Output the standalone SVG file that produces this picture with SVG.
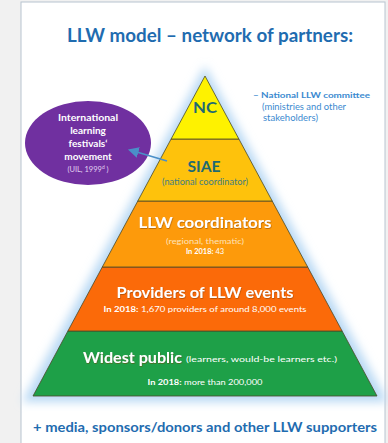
<svg xmlns="http://www.w3.org/2000/svg" width="388" height="443" viewBox="0 0 388 443">
<defs>
<style>
.t{font-family:Lato,"Open Sans","Liberation Sans",sans-serif;text-anchor:middle}
.s{text-anchor:start}
.blue{fill:#1f6cb0;font-weight:bold}
.teal{fill:#1f6a72;font-weight:bold}
.wh{fill:#ffffff}
.layer{stroke:#4a4a2a;stroke-width:0.8}
.note{fill:#3b8ad0}
</style>
<filter id="glow" x="-20%" y="-20%" width="140%" height="140%">
<feGaussianBlur stdDeviation="5"/>
</filter>
<filter id="sh" x="-10%" y="-30%" width="120%" height="160%">
<feDropShadow dx="0.5" dy="0.8" stdDeviation="0.6" flood-color="#7a3a00" flood-opacity="0.6"/>
</filter>
<marker id="ah" viewBox="0 0 10 10" refX="8" refY="5" markerWidth="6" markerHeight="6" orient="auto-start-reverse">
<path d="M0,0 L10,5 L0,10 z" fill="#4a8fc8"/>
</marker>
</defs>
<rect x="0" y="0" width="388" height="443" fill="#f1f1f1"/>
<rect x="21" y="2" width="364" height="445" fill="#ffffff" stroke="#b8c4d0" stroke-width="1"/>
<g id="title">
<text class="t blue" x="210" y="42" font-size="18" textLength="286" lengthAdjust="spacingAndGlyphs">LLW model – network of partners:</text>
</g>
<polygon points="205,66 22,402 388,402" fill="#b9d9f4" filter="url(#glow)"/>
<g id="widest">
<polygon class="layer" points="67.9,331 342.1,331 377,396 33,396" fill="#1ea048"/>
<text class="t s wh" x="83" y="363" font-size="15" font-weight="bold" textLength="99" lengthAdjust="spacingAndGlyphs" filter="url(#sh)">Widest public</text>
<text class="t s wh" x="186" y="362" font-size="8" textLength="151" lengthAdjust="spacingAndGlyphs">(learners, would-be learners etc.)</text>
<text class="t wh" x="205" y="385" font-size="7.5" textLength="115" lengthAdjust="spacingAndGlyphs"><tspan font-weight="bold">In 2018:</tspan> more than 200,000</text>
</g>
<g id="providers">
<polygon class="layer" points="102.3,267 307.7,267 342.1,331 67.9,331" fill="#fb6a09"/>
<text class="t wh" x="205" y="298" font-size="15" font-weight="bold" textLength="177" lengthAdjust="spacingAndGlyphs" filter="url(#sh)">Providers of LLW events</text>
<text class="t wh" x="205" y="312" font-size="7.5" textLength="203" lengthAdjust="spacingAndGlyphs"><tspan font-weight="bold">In 2018:</tspan> 1,670 providers of around 8,000 events</text>
</g>
<g id="coordinators">
<polygon class="layer" points="137.8,201 272.2,201 307.7,267 102.3,267" fill="#fd9a0b"/>
<text class="t wh" x="205" y="228" font-size="15" font-weight="bold" textLength="133" lengthAdjust="spacingAndGlyphs" filter="url(#sh)">LLW coordinators</text>
<text class="t" x="205" y="244" font-size="7.5" fill="#fde2b8" textLength="78" lengthAdjust="spacingAndGlyphs">(regional, thematic)</text>
<text class="t wh" x="205" y="254" font-size="7.5"><tspan font-weight="bold">In 2018:</tspan> 43</text>
</g>
<g id="siae">
<polygon class="layer" points="171.1,139 238.9,139 272.2,201 137.8,201" fill="#fec20c"/>
<text class="t teal" x="204" y="172" font-size="16" textLength="33" lengthAdjust="spacingAndGlyphs">SIAE</text>
<text class="t" x="205" y="185" font-size="8.5" fill="#3f7d80" textLength="86" lengthAdjust="spacingAndGlyphs">(national coordinator)</text>
</g>
<g id="nc">
<polygon class="layer" points="205,76 238.9,139 171.1,139" fill="#fef200"/>
<text class="t teal" x="205" y="113" font-size="15" textLength="24" lengthAdjust="spacingAndGlyphs">NC</text>
</g>
<g id="committee">
<text class="t s note" x="253" y="98" font-size="8" font-weight="bold" textLength="117" lengthAdjust="spacingAndGlyphs">– National  LLW committee</text>
<text class="t s note" x="262" y="110" font-size="8.5" textLength="84" lengthAdjust="spacingAndGlyphs">(ministries and other</text>
<text class="t s note" x="263" y="121" font-size="8.5" textLength="55" lengthAdjust="spacingAndGlyphs">stakeholders)</text>
</g>
<g id="festivals">
<ellipse cx="88" cy="143" rx="63" ry="42" fill="#7030a0"/>
<text class="t wh" x="88" y="121" font-size="10" font-weight="bold" textLength="60" lengthAdjust="spacingAndGlyphs">International</text>
<text class="t wh" x="88" y="134" font-size="10" font-weight="bold">learning</text>
<text class="t wh" x="88" y="147" font-size="10" font-weight="bold">festivals‘</text>
<text class="t wh" x="88" y="160" font-size="10" font-weight="bold">movement</text>
<text class="t" x="88" y="172" font-size="7.5" fill="#e0d0f0">(UIL, 1999<tspan font-size="5" dy="-3">d</tspan><tspan dy="3"> )</tspan></text>
</g>
<g id="connectors">
<line x1="167" y1="161" x2="130" y2="150" stroke="#4a8fc8" stroke-width="1.8" marker-end="url(#ah)"/>
</g>
<g id="footer">
<text class="t blue" x="205" y="432" font-size="14" textLength="344" lengthAdjust="spacingAndGlyphs">+ media, sponsors/donors and other LLW supporters</text>
</g>
</svg>
